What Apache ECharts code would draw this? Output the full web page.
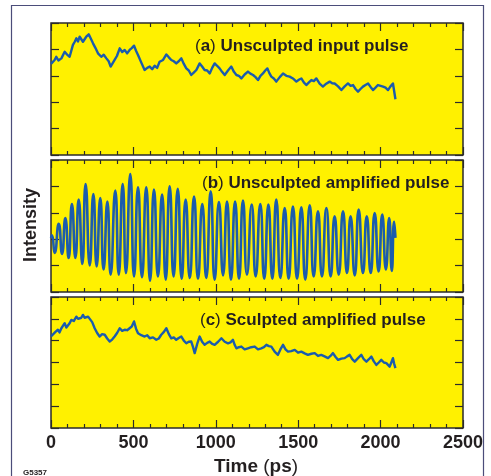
<!DOCTYPE html>
<html>
<head>
<meta charset="utf-8">
<script src="https://cdn.jsdelivr.net/npm/echarts@6/dist/echarts.min.js"></script>
<style>html,body{margin:0;padding:0;background:#fff;}#c{width:491px;height:476px;}</style>
</head>
<body>
<div id="c"></div>
<script>
// x-axis ticks (ps)
var xTicks = [0, 500, 1000, 1500, 2000, 2500];
var panelTitles = ['a', 'Unsculpted input pulse', 'b', 'Unsculpted amplified pulse', 'c', 'Sculpted amplified pulse'];

// (a) Unsculpted input pulse  [time ps, intensity]
var seriesA = [[0,3.45],[12,3.43],[22,3.6],[32,3.72],[45,3.58],[63,3.66],[83,3.91],[98,3.8],[113,3.72],[133,4.17],[145,4.3],[154,4.42],[164,4.3],[174,4.48],[194,4.29],[214,4.48],[229,4.57],[242,4.4],[255,4.23],[270,4.05],[285,3.85],[295,3.9],[305,3.72],[320,3.8],[336,3.66],[350,3.55],[362,3.35],[386,3.6],[400,3.75],[417,4.04],[432,3.9],[447,3.98],[462,3.85],[477,3.98],[490,4.05],[504,4.14],[516,3.95],[528,3.79],[548,3.5],[568,3.22],[584,3.3],[599,3.35],[614,3.25],[629,3.38],[644,3.3],[659,3.53],[680,3.6],[700,3.81],[715,3.7],[730,3.6],[745,3.55],[760,3.47],[775,3.55],[791,3.66],[806,3.45],[821,3.28],[836,3.2],[851,3.03],[866,3.12],[882,3.22],[902,3.47],[917,3.35],[932,3.22],[948,3.2],[963,3.09],[978,3.3],[993,3.47],[1008,3.38],[1023,3.28],[1038,3.15],[1054,3.03],[1074,3.2],[1094,3.35],[1110,3.15],[1125,3.03],[1140,3.0],[1155,2.9],[1175,3.05],[1195,3.16],[1210,3.08],[1226,3.03],[1241,2.95],[1256,2.84],[1271,3.0],[1286,3.09],[1300,3.2],[1313,3.28],[1325,3.1],[1337,2.97],[1352,2.9],[1367,2.78],[1388,2.95],[1408,3.09],[1428,3.0],[1448,2.97],[1468,2.9],[1489,2.78],[1504,2.85],[1519,2.9],[1534,2.75],[1549,2.65],[1565,2.75],[1580,2.84],[1595,2.8],[1610,2.9],[1630,2.7],[1650,2.59],[1670,2.7],[1691,2.78],[1706,2.72],[1721,2.71],[1742,2.6],[1762,2.46],[1782,2.6],[1802,2.71],[1818,2.62],[1833,2.65],[1848,2.5],[1863,2.4],[1878,2.5],[1893,2.59],[1908,2.65],[1924,2.71],[1939,2.58],[1954,2.46],[1969,2.55],[1984,2.65],[2000,2.62],[2015,2.59],[2030,2.55],[2045,2.46],[2060,2.6],[2075,2.71],[2083,2.78],[2090,2.11]];

// (b) Unsculpted amplified pulse (peaks and troughs)
var seriesB = [[0,2.05],[6,2.15],[22,1.48],[47,2.58],[67,1.44],[87,2.8],[107,1.29],[127,3.33],[148,1.29],[168,3.5],[190,1.06],[210,4.09],[235,1.01],[257,3.71],[277,0.97],[299,3.56],[319,0.85],[342,3.43],[362,0.66],[390,3.84],[411,0.66],[435,4.09],[455,0.72],[481,4.47],[504,0.59],[528,3.97],[552,0.56],[578,3.97],[601,0.43],[625,3.88],[649,0.59],[674,3.69],[696,0.47],[720,4.0],[744,0.59],[769,3.91],[793,0.5],[817,3.5],[842,0.53],[868,3.62],[892,0.5],[918,3.33],[942,0.53],[969,3.81],[993,0.47],[1019,3.41],[1044,0.63],[1068,3.43],[1092,0.47],[1117,3.43],[1141,0.5],[1165,3.46],[1189,0.66],[1218,3.31],[1242,0.59],[1270,3.33],[1294,0.5],[1319,3.31],[1343,0.5],[1367,3.5],[1392,0.53],[1418,3.18],[1442,0.5],[1468,3.24],[1493,0.5],[1519,3.21],[1543,0.47],[1570,3.28],[1594,0.59],[1620,3.06],[1644,0.59],[1671,3.18],[1697,0.59],[1721,2.87],[1746,0.66],[1772,3.06],[1796,0.72],[1818,2.87],[1843,0.63],[1867,3.12],[1893,0.72],[1916,2.87],[1940,0.72],[1964,2.99],[1988,0.78],[2010,2.93],[2032,0.85],[2052,2.8],[2068,0.8],[2082,2.66],[2090,2.05]];

// (c) Sculpted amplified pulse
var seriesC = [[0,4.2],[12,4.27],[27,4.4],[42,4.5],[52,4.38],[63,4.57],[83,4.8],[93,4.6],[103,4.65],[113,4.8],[123,4.95],[138,4.9],[154,5.1],[164,5.0],[174,4.95],[184,5.05],[194,5.18],[204,5.05],[214,5.0],[225,5.1],[235,5.18],[250,4.85],[265,4.57],[280,4.35],[295,4.19],[310,4.3],[326,4.27],[341,4.1],[356,3.96],[371,4.05],[386,4.19],[401,4.35],[417,4.57],[432,4.45],[447,4.5],[462,4.48],[477,4.57],[490,4.65],[504,4.88],[516,4.55],[528,4.34],[548,4.25],[568,4.19],[584,4.25],[599,4.11],[619,4.15],[639,4.04],[654,4.1],[669,4.27],[685,4.4],[700,4.57],[715,4.3],[730,4.11],[745,4.15],[760,4.04],[775,4.12],[791,4.19],[806,4.0],[821,3.88],[836,3.95],[851,3.96],[862,3.7],[872,3.43],[887,3.85],[902,4.19],[917,3.95],[932,3.81],[948,3.9],[963,3.96],[978,3.85],[993,3.81],[1014,3.95],[1034,4.11],[1054,3.95],[1074,3.88],[1089,3.92],[1104,4.04],[1115,3.8],[1125,3.65],[1140,3.7],[1155,3.73],[1175,3.6],[1195,3.65],[1215,3.7],[1236,3.73],[1256,3.6],[1276,3.65],[1292,3.7],[1307,3.81],[1322,3.75],[1337,3.73],[1357,3.5],[1377,3.35],[1392,3.6],[1408,3.81],[1423,3.6],[1438,3.5],[1458,3.52],[1479,3.58],[1499,3.45],[1519,3.5],[1539,3.42],[1559,3.35],[1580,3.4],[1600,3.43],[1620,3.3],[1640,3.35],[1660,3.28],[1681,3.2],[1696,3.3],[1711,3.43],[1727,3.25],[1742,3.12],[1762,3.18],[1782,3.2],[1797,3.28],[1812,3.35],[1828,3.15],[1843,3.04],[1863,3.2],[1883,3.35],[1898,3.15],[1914,3.04],[1929,3.15],[1944,3.27],[1959,3.05],[1974,2.89],[1989,3.0],[2004,3.12],[2020,3.0],[2035,2.97],[2045,2.88],[2055,2.81],[2065,3.0],[2075,3.2],[2082,2.95],[2090,2.74]];

var yMax = [5, 5, 6];

var chart = echarts.init(document.getElementById('c'), null, {renderer: 'canvas'});
var FONT = '"Liberation Sans", Arial, Helvetica, sans-serif';
var INK = '#231f20';
var LINE = '#1b5cad';
var TICK = '#2b2b2b';
var grids = [
  {left: 51, top: 23, width: 412, height: 132},
  {left: 51, top: 160, width: 412, height: 132},
  {left: 51, top: 297, width: 412, height: 131}
];
var gridOpts = grids.map(function (g) {
  return Object.assign({show: true, backgroundColor: '#fff100', borderColor: TICK, borderWidth: 1.5}, g);
});
var xAxes = [], yAxes = [];
function xAx(i, pos, labels) {
  return {
    type: 'value', gridIndex: i, position: pos, min: xTicks[0], max: xTicks[xTicks.length - 1],
    interval: xTicks[1] - xTicks[0],
    axisLine: {show: false, onZero: false},
    axisTick: {show: true, inside: true, length: 8, lineStyle: {color: TICK, width: 1.2}},
    minorTick: {show: true, splitNumber: 5, length: 4, lineStyle: {color: TICK, width: 1.2}},
    splitLine: {show: false},
    axisLabel: {show: labels, margin: 6, fontSize: 18, fontWeight: 'bold', fontFamily: FONT, color: INK,
      formatter: function (v) { return String(v); }}
  };
}
function yAx(i, pos) {
  return {
    type: 'value', gridIndex: i, position: pos, min: 0, max: yMax[i], interval: 1,
    axisLine: {show: false, onZero: false},
    axisTick: {show: true, inside: true, length: 8, lineStyle: {color: TICK, width: 1.2}},
    splitLine: {show: false},
    axisLabel: {show: false}
  };
}
for (var i = 0; i < 3; i++) xAxes.push(xAx(i, 'bottom', i === 2));
for (var i = 0; i < 3; i++) xAxes.push(xAx(i, 'top', false));
for (var i = 0; i < 3; i++) yAxes.push(yAx(i, 'left'));
for (var i = 0; i < 3; i++) yAxes.push(yAx(i, 'right'));

var data = [seriesA, seriesB, seriesC];
var series = data.map(function (d, i) {
  return {
    type: 'line', xAxisIndex: i, yAxisIndex: i, data: d, showSymbol: false, symbol: 'none',
    smooth: i === 1 ? 0.6 : false,
    lineStyle: {color: LINE, width: i === 1 ? 2.6 : 2.4, join: 'round'}, animation: false, z: 3
  };
});

var rich = {p: {fontWeight: 'normal', fontSize: 17, fontFamily: FONT, fill: INK}};
function titleText(x, y, letter, words) {
  return {
    type: 'text', x: x, y: y, z: 10,
    style: {
      text: '{p|(}' + letter + '{p|)} ' + words,
      font: 'bold 17px ' + FONT, fill: INK, verticalAlign: 'middle', rich: rich
    }
  };
}
var graphics = [
  {type: 'rect', shape: {x: 11.5, y: 5.5, width: 472, height: 520}, style: {fill: 'none', stroke: '#4b4d7a', lineWidth: 1.2}, z: 1},
  titleText(195, 46, panelTitles[0], panelTitles[1]),
  titleText(202, 183, panelTitles[2], panelTitles[3]),
  titleText(200, 320, panelTitles[4], panelTitles[5]),
  {type: 'text', x: 256, y: 467, z: 10, style: {text: 'Time {q|(}ps{q|)}', font: 'bold 19px ' + FONT, fill: INK, align: 'center', verticalAlign: 'middle',
    rich: {q: {fontWeight: 'normal', fontSize: 19, fontFamily: FONT, fill: INK}}}},
  {type: 'text', x: 31, y: 225, rotation: Math.PI / 2, z: 10, style: {text: 'Intensity', font: 'bold 18px ' + FONT, fill: INK, align: 'center', verticalAlign: 'middle'}},
  {type: 'text', x: 23, y: 473, z: 10, style: {text: 'G5357', font: 'bold 8px ' + FONT, fill: INK, verticalAlign: 'middle'}}
];

chart.setOption({
  animation: false,
  backgroundColor: '#ffffff',
  grid: gridOpts,
  xAxis: xAxes,
  yAxis: yAxes,
  series: series,
  graphic: graphics
});
</script>
</body>
</html>
